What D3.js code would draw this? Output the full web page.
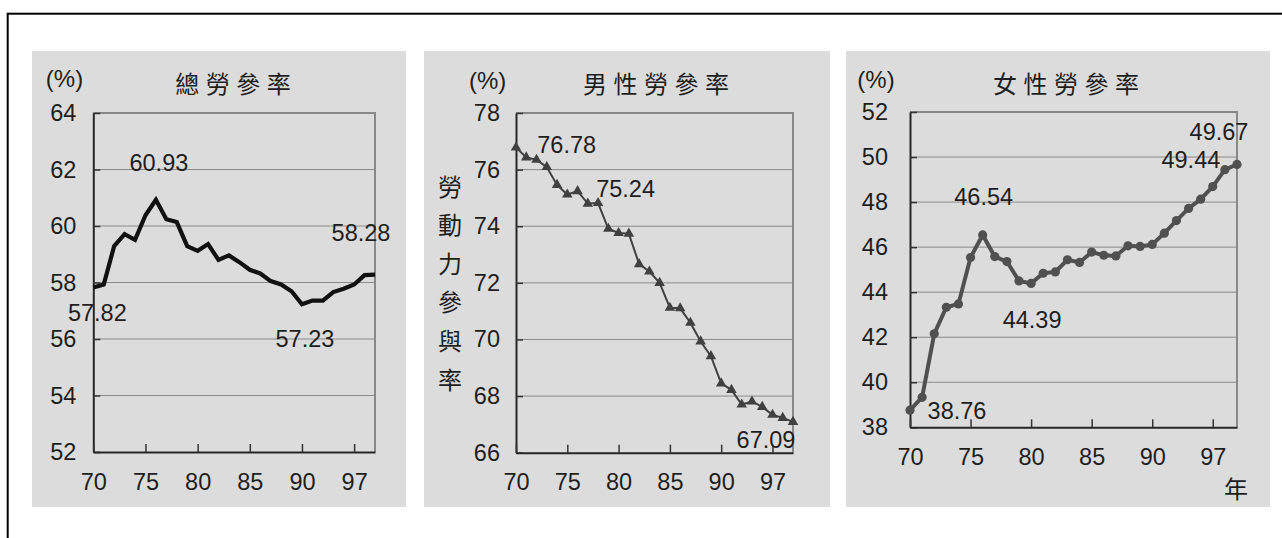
<!DOCTYPE html>
<html>
<head>
<meta charset="utf-8">
<script src="https://cdn.jsdelivr.net/npm/d3@7"></script>
<style>
  html, body { margin: 0; padding: 0; background: #ffffff; }
  svg { display: block; }
</style>
</head>
<body>
<svg id="chart" width="1282" height="538"></svg>
<script>
// 民國 70–97 年 勞動力參與率 (%)
const years = [70, 71, 72, 73, 74, 75, 76, 77, 78, 79, 80, 81, 82, 83,
               84, 85, 86, 87, 88, 89, 90, 91, 92, 93, 94, 95, 96, 97];

const totalRate = [57.82, 57.93, 59.29, 59.71, 59.51, 60.38, 60.93, 60.24, 60.14, 59.29,
                   59.12, 59.36, 58.80, 58.96, 58.72, 58.45, 58.32, 58.05, 57.93, 57.69,
                   57.23, 57.36, 57.36, 57.66, 57.78, 57.93, 58.26, 58.28];

const maleRate = [76.78, 76.43, 76.35, 76.09, 75.46, 75.12, 75.24, 74.80, 74.82, 73.91,
                  73.76, 73.74, 72.66, 72.40, 72.00, 71.12, 71.10, 70.59, 69.93, 69.41,
                  68.45, 68.22, 67.70, 67.81, 67.62, 67.34, 67.23, 67.09];

const femaleRate = [38.76, 39.33, 42.15, 43.33, 43.48, 45.54, 46.54, 45.58, 45.36, 44.50,
                    44.39, 44.84, 44.90, 45.44, 45.32, 45.78, 45.64, 45.61, 46.06, 46.03,
                    46.12, 46.62, 47.18, 47.72, 48.13, 48.69, 49.44, 49.67];

const titles = ["總勞參率", "男性勞參率", "女性勞參率"];
const unitLabel = "(%)";
const yAxisTitle = "勞動力參與率";
const xAxisUnit = "年";

const xTickYears = [70, 75, 80, 85, 90, 95];
const xTickLabels = ["70", "75", "80", "85", "90", "97"];

const totalTicks = [52, 54, 56, 58, 60, 62, 64];
const maleTicks = [66, 68, 70, 72, 74, 76, 78];
const femaleTicks = [38, 40, 42, 44, 46, 48, 50, 52];

// indices of the annotated points in each series
const totalNotes = [0, 6, 20, 27];
const maleNotes = [0, 6, 27];
const femaleNotes = [0, 6, 10, 26, 27];

// ---- drawing ----
const NUM_FONT = "'Liberation Sans', Arial, sans-serif";
const CJK_FONT = "'Noto Sans CJK TC', 'Noto Sans CJK SC', sans-serif";
const NUM_SIZE = "23.5px";
const CJK_SIZE = "24px";
const TEXT = "#1e1e1e";

const svg = d3.select("#chart");

// outer frame
svg.append("rect")
  .attr("x", 7.7).attr("y", 13.7)
  .attr("width", 1300).attr("height", 560)
  .attr("fill", "none").attr("stroke", "#000").attr("stroke-width", 2);

const panels = [
  {
    title: titles[0], values: totalRate, ticks: totalTicks, notes: totalNotes,
    bg: { x: 32, y: 51, w: 374, h: 456 },
    plot: { left: 93.3, right: 375, top: 113, bottom: 452 },
    yPad: 17, xPad: 21,
    titleX: 233, titleY: 82, unitX: 64.5, unitY: 78,
    line: { color: "#111", width: 4.2 }, marker: null,
    noteOffsets: [[4, 24.5], [3, -36.7], [3, 34], [-14, -41.6]]
  },
  {
    title: titles[1], values: maleRate, ticks: maleTicks, notes: maleNotes,
    bg: { x: 424, y: 51, w: 406, h: 456 },
    plot: { left: 516, right: 793, top: 113, bottom: 452.7 },
    yPad: 16, xPad: 21,
    titleX: 656, titleY: 82.5, unitX: 487.7, unitY: 80,
    line: { color: "#404040", width: 2 }, marker: "triangle",
    noteOffsets: [[50.7, -2.5], [48, -3], [-27, 18]],
    yTitle: { x: 450, y0: 185, step: 38.6 }
  },
  {
    title: titles[2], values: femaleRate, ticks: femaleTicks, notes: femaleNotes,
    bg: { x: 846, y: 51, w: 424, h: 456 },
    plot: { left: 910, right: 1237, top: 112, bottom: 427.3 },
    yPad: 22, xPad: 21,
    titleX: 1066, titleY: 82, unitX: 876, unitY: 79,
    line: { color: "#505050", width: 4 }, marker: "circle",
    noteOffsets: [[47, 0], [1, -38.3], [1, 36.6], [-34, -9.7], [-18, -33]],
    xUnit: { x: 1236, y: 487 }
  }
];

panels.forEach(drawPanel);

function drawPanel(p) {
  const g = svg.append("g");
  const { left, right, top, bottom } = p.plot;

  g.append("rect")
    .attr("x", p.bg.x).attr("y", p.bg.y)
    .attr("width", p.bg.w).attr("height", p.bg.h)
    .attr("fill", "#dcdcdc");

  const x = d3.scaleLinear()
    .domain([years[0], years[years.length - 1]])
    .range([left, right]);
  const y = d3.scaleLinear()
    .domain(d3.extent(p.ticks))
    .range([bottom, top]);

  // horizontal grid lines
  g.selectAll("line.grid")
    .data(p.ticks.slice(1, -1))
    .join("line")
    .attr("class", "grid")
    .attr("x1", left).attr("x2", right)
    .attr("y1", d => y(d)).attr("y2", d => y(d))
    .attr("stroke", "#8a8a8a").attr("stroke-width", 1);

  // top and right border of the plot area
  g.append("path")
    .attr("d", `M${left},${top}H${right}V${bottom}`)
    .attr("fill", "none").attr("stroke", "#888").attr("stroke-width", 2);

  // y axis with inward ticks
  const yAxis = g.append("g")
    .attr("transform", `translate(${left},0)`)
    .call(d3.axisLeft(y).tickValues(p.ticks).tickSize(-7).tickSizeOuter(0)
      .tickPadding(p.yPad).tickFormat(d3.format("d")));

  // x axis with inward ticks
  const xAxis = g.append("g")
    .attr("transform", `translate(0,${bottom})`)
    .call(d3.axisBottom(x).tickValues(xTickYears).tickSize(-8).tickSizeOuter(0)
      .tickPadding(p.xPad).tickFormat((d, i) => xTickLabels[i]));

  [yAxis, xAxis].forEach(a => {
    a.select(".domain").attr("stroke", "#262626").attr("stroke-width", 2);
    a.selectAll(".tick line").attr("stroke", "#333").attr("stroke-width", 1.5);
    a.selectAll(".tick text")
      .attr("fill", TEXT)
      .style("font-family", NUM_FONT)
      .style("font-size", NUM_SIZE);
  });

  // series line
  const line = d3.line()
    .x((d, i) => x(years[i]))
    .y(d => y(d));
  g.append("path")
    .datum(p.values)
    .attr("d", line)
    .attr("fill", "none")
    .attr("stroke", p.line.color)
    .attr("stroke-width", p.line.width)
    .attr("stroke-linejoin", "miter");

  // point markers
  if (p.marker === "triangle") {
    const sym = d3.symbol().type(d3.symbolTriangle).size(48);
    g.selectAll("path.mark")
      .data(p.values)
      .join("path")
      .attr("class", "mark")
      .attr("d", sym)
      .attr("transform", (d, i) => `translate(${x(years[i])},${y(d)})`)
      .attr("fill", p.line.color);
  } else if (p.marker === "circle") {
    g.selectAll("circle.mark")
      .data(p.values)
      .join("circle")
      .attr("class", "mark")
      .attr("cx", (d, i) => x(years[i]))
      .attr("cy", d => y(d))
      .attr("r", 4.6)
      .attr("fill", p.line.color);
  }

  // value annotations
  g.selectAll("text.note")
    .data(p.notes)
    .join("text")
    .attr("class", "note")
    .attr("x", (idx, k) => x(years[idx]) + p.noteOffsets[k][0])
    .attr("y", (idx, k) => y(p.values[idx]) + p.noteOffsets[k][1])
    .attr("dy", "0.36em")
    .attr("text-anchor", "middle")
    .attr("fill", TEXT)
    .style("font-family", NUM_FONT)
    .style("font-size", NUM_SIZE)
    .text(idx => p.values[idx].toFixed(2));

  // title
  const spacing = 6.5;
  g.append("text")
    .attr("x", p.titleX + spacing / 2)
    .attr("y", p.titleY)
    .attr("text-anchor", "middle")
    .attr("dominant-baseline", "central")
    .attr("fill", TEXT)
    .style("font-family", CJK_FONT)
    .style("font-size", CJK_SIZE)
    .style("letter-spacing", spacing + "px")
    .text(p.title);

  // unit
  g.append("text")
    .attr("x", p.unitX).attr("y", p.unitY)
    .attr("dy", "0.36em")
    .attr("text-anchor", "middle")
    .attr("fill", TEXT)
    .style("font-family", NUM_FONT)
    .style("font-size", "24px")
    .text(unitLabel);

  // vertical axis title, one character per line
  if (p.yTitle) {
    g.selectAll("text.ytitle")
      .data(Array.from(yAxisTitle))
      .join("text")
      .attr("class", "ytitle")
      .attr("x", p.yTitle.x)
      .attr("y", (c, i) => p.yTitle.y0 + i * p.yTitle.step)
      .attr("text-anchor", "middle")
      .attr("dominant-baseline", "central")
      .attr("fill", TEXT)
      .style("font-family", CJK_FONT)
      .style("font-size", CJK_SIZE)
      .text(c => c);
  }

  if (p.xUnit) {
    g.append("text")
      .attr("x", p.xUnit.x).attr("y", p.xUnit.y)
      .attr("text-anchor", "middle")
      .attr("dominant-baseline", "central")
      .attr("fill", TEXT)
      .style("font-family", CJK_FONT)
      .style("font-size", CJK_SIZE)
      .text(xAxisUnit);
  }
}
</script>
</body>
</html>
